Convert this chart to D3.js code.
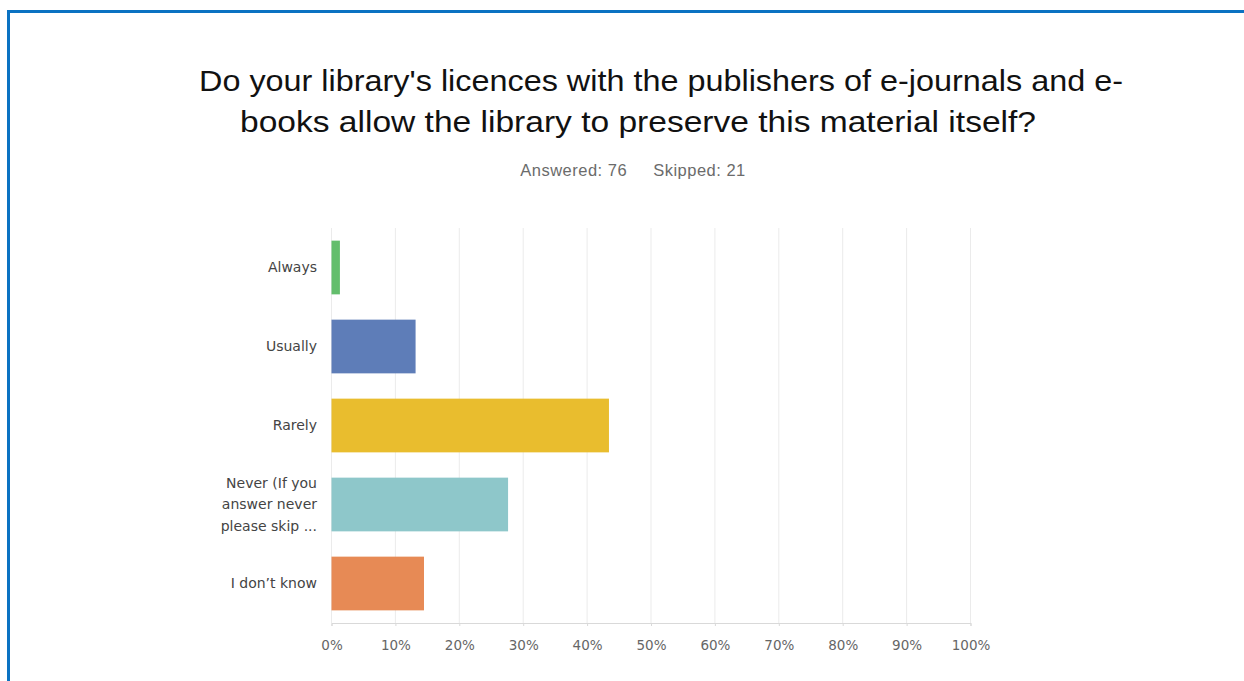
<!DOCTYPE html>
<html>
<head>
<meta charset="utf-8">
<script src="https://cdn.jsdelivr.net/npm/d3@7/dist/d3.min.js"></script>
<style>
  html, body { margin: 0; padding: 0; background: #fff; }
  svg { display: block; }
</style>
</head>
<body>
<svg id="chart" width="1244" height="681"></svg>
<script>
// Survey answers: share of respondents per option
const categories = ["Always", "Usually", "Rarely", "Never (If you answer never please skip ...", "I don't know"];
const categoryLines = [["Always"], ["Usually"], ["Rarely"], ["Never (If you", "answer never", "please skip ..."], ["I don\u2019t know"]];
const responses = [1, 10, 33, 21, 11];
const answered = 76;
const skipped = 21;
const percentValues = responses.map(r => r / answered * 100);
const tickValues = [0, 10, 20, 30, 40, 50, 60, 70, 80, 90, 100];
const barColors = ["#63BE6C", "#5E7DB8", "#E9BD2E", "#8EC7CA", "#E78A55"];
const titleLines = ["Do your library's licences with the publishers of e-journals and e-",
                    "books allow the library to preserve this material itself?"];

const svg = d3.select("#chart");

// Frame edges (top and left)
svg.append("line").attr("x1", 8.5).attr("x2", 1244).attr("y1", 11.5).attr("y2", 11.5)
  .attr("stroke", "#0A72C2").attr("stroke-width", 3);
svg.append("line").attr("x1", 8.5).attr("x2", 8.5).attr("y1", 10).attr("y2", 681)
  .attr("stroke", "#0A72C2").attr("stroke-width", 3);

// Title, two lines with fixed extents
const titleStart = [199, 240];
const titleWidth = [924, 796];
svg.selectAll("text.title").data(titleLines).join("text")
  .attr("class", "title")
  .attr("x", (d, i) => titleStart[i])
  .attr("y", (d, i) => 91 + i * 41)
  .attr("textLength", (d, i) => titleWidth[i])
  .attr("lengthAdjust", "spacingAndGlyphs")
  .attr("font-family", "'Liberation Sans', Arial, sans-serif")
  .attr("font-size", 30)
  .attr("fill", "#111")
  .text(d => d);

// Summary line
const summary = svg.append("text")
  .attr("x", 633).attr("y", 176)
  .attr("text-anchor", "middle")
  .attr("font-family", "'Liberation Sans', Arial, sans-serif")
  .attr("font-size", 16.5)
  .attr("letter-spacing", 0.5)
  .attr("fill", "#6b6b6b");
summary.append("tspan").text(`Answered: ${answered}`);
summary.append("tspan").attr("dx", 26).text(`Skipped: ${skipped}`);

const plotLeft = 331, plotRight = 970, plotTop = 228, plotBottom = 623;

const x = d3.scaleLinear().domain([0, 100]).range([plotLeft, plotRight]);
const y = d3.scaleBand().domain(categories).range([plotTop, plotBottom]).paddingInner(0.32).paddingOuter(0.16);

// Vertical gridlines
svg.append("g").selectAll("line").data(tickValues).join("line")
  .attr("x1", d => x(d) + 0.5).attr("x2", d => x(d) + 0.5)
  .attr("y1", plotTop).attr("y2", plotBottom)
  .attr("stroke", "#ebebeb").attr("stroke-width", 1);

// Bottom axis
const xAxis = d3.axisBottom(x).tickValues(tickValues).tickFormat(d => d + "%").tickSize(3).tickPadding(14);
const gx = svg.append("g").attr("transform", `translate(0.5,${plotBottom})`).call(xAxis);
gx.select(".domain").attr("stroke", "#d9d9d9");
gx.selectAll(".tick line").attr("stroke", "#d9d9d9");
gx.selectAll(".tick text")
  .attr("font-family", "'DejaVu Sans', sans-serif")
  .attr("font-size", 13.5)
  .attr("fill", "#666");

// Bars
svg.append("g").selectAll("rect").data(categories).join("rect")
  .attr("x", plotLeft + 0.5)
  .attr("y", d => y(d))
  .attr("width", (d, i) => x(percentValues[i]) - plotLeft)
  .attr("height", y.bandwidth())
  .attr("fill", (d, i) => barColors[i]);

// Category labels
const labels = svg.append("g").selectAll("text").data(categories).join("text")
  .attr("text-anchor", "end")
  .attr("font-family", "'DejaVu Sans', sans-serif")
  .attr("font-size", 14)
  .attr("fill", "#444");
labels.each(function(d, i) {
  const lines = categoryLines[i];
  const cy = y(d) + y.bandwidth() / 2;
  const lh = 21.5;
  const t = d3.select(this);
  lines.forEach((ln, j) => {
    t.append("tspan")
      .attr("x", 317)
      .attr("y", cy + (j - (lines.length - 1) / 2) * lh)
      .attr("dy", "0.35em")
      .text(ln);
  });
});
</script>
</body>
</html>
